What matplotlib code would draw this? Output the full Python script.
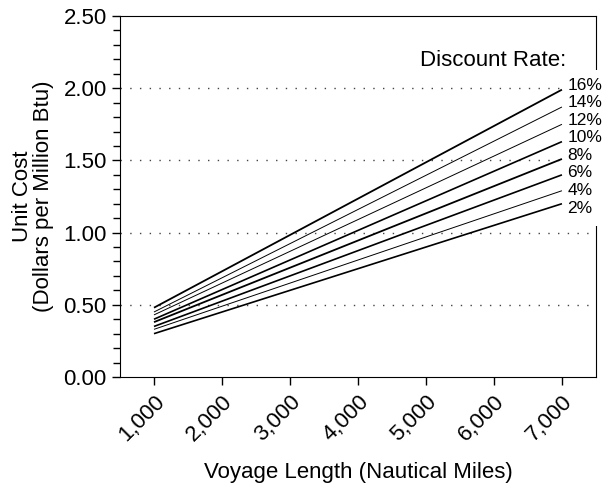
import matplotlib
matplotlib.use("Agg")
import matplotlib.pyplot as plt
from matplotlib.patches import Rectangle
import numpy as np

plt.rcParams['font.family'] = ['Liberation Sans', 'DejaVu Sans']

# voyage length endpoints (nautical miles)
voyage = [1000, 7000]
rates = ["16%", "14%", "12%", "10%", "8%", "6%", "4%", "2%"]
# unit cost at 1,000 and 7,000 miles, one pair per discount rate
cost_start = [0.48, 0.45, 0.43, 0.40, 0.38, 0.35, 0.33, 0.30]
cost_end = [1.99, 1.87, 1.75, 1.63, 1.51, 1.40, 1.29, 1.20]
widths = [1.3, 0.7, 0.7, 1.2, 1.3, 1.2, 0.7, 1.2]

xticks = [1000, 2000, 3000, 4000, 5000, 6000, 7000]
xlabels = ["1,000", "2,000", "3,000", "4,000", "5,000", "6,000", "7,000"]
yticks = [0.0, 0.5, 1.0, 1.5, 2.0, 2.5]

fig = plt.figure(figsize=(6.14, 4.91), dpi=100)
ax = fig.add_axes([0.1954, 0.2322, 0.7752, 0.7352])

for r, s, e, w in zip(rates, cost_start, cost_end, widths):
    ax.plot(voyage, [s, e], color="black", lw=w, solid_capstyle="butt")

for y in [0.5, 1.0, 1.5, 2.0]:
    ax.axhline(y, color="#444444", lw=1.0, ls=(0, (1, 6)), zorder=0)

ax.set_xlim(500, 7500)
ax.set_ylim(0, 2.5)
ax.set_xticks(xticks)
ax.set_xticklabels(xlabels, rotation=45, ha="right", rotation_mode="anchor")
ax.set_yticks(yticks)
ax.set_yticklabels([f"{v:.2f}" for v in yticks])
ax.set_yticks(np.arange(0, 2.51, 0.1), minor=True)
ax.tick_params(axis="both", labelsize=16, direction="out", length=6, width=1)
ax.tick_params(axis="y", which="minor", direction="out", length=5, width=1)
ax.tick_params(axis="x", pad=4)

ax.set_xlabel("Voyage Length (Nautical Miles)", fontsize=16, labelpad=12)
ax.set_ylabel("Unit Cost\n(Dollars per Million Btu)", fontsize=16, labelpad=7,
              linespacing=0.95)

# white block hiding the right frame behind the rate labels
ax.add_patch(Rectangle((0.937, 0.418), 0.1, 0.432, transform=ax.transAxes,
                       facecolor="white", edgecolor="none", clip_on=False, zorder=3))

label_y = np.linspace(2.02, 1.17, len(rates))
for r, y in zip(rates, label_y):
    ax.text(7080, y, r, fontsize=12.5, va="center", ha="left", zorder=4, clip_on=False)

ax.text(7060, 2.19, "Discount Rate:", fontsize=16, va="center", ha="right", zorder=4)

fig.savefig("out.png", dpi=100)
